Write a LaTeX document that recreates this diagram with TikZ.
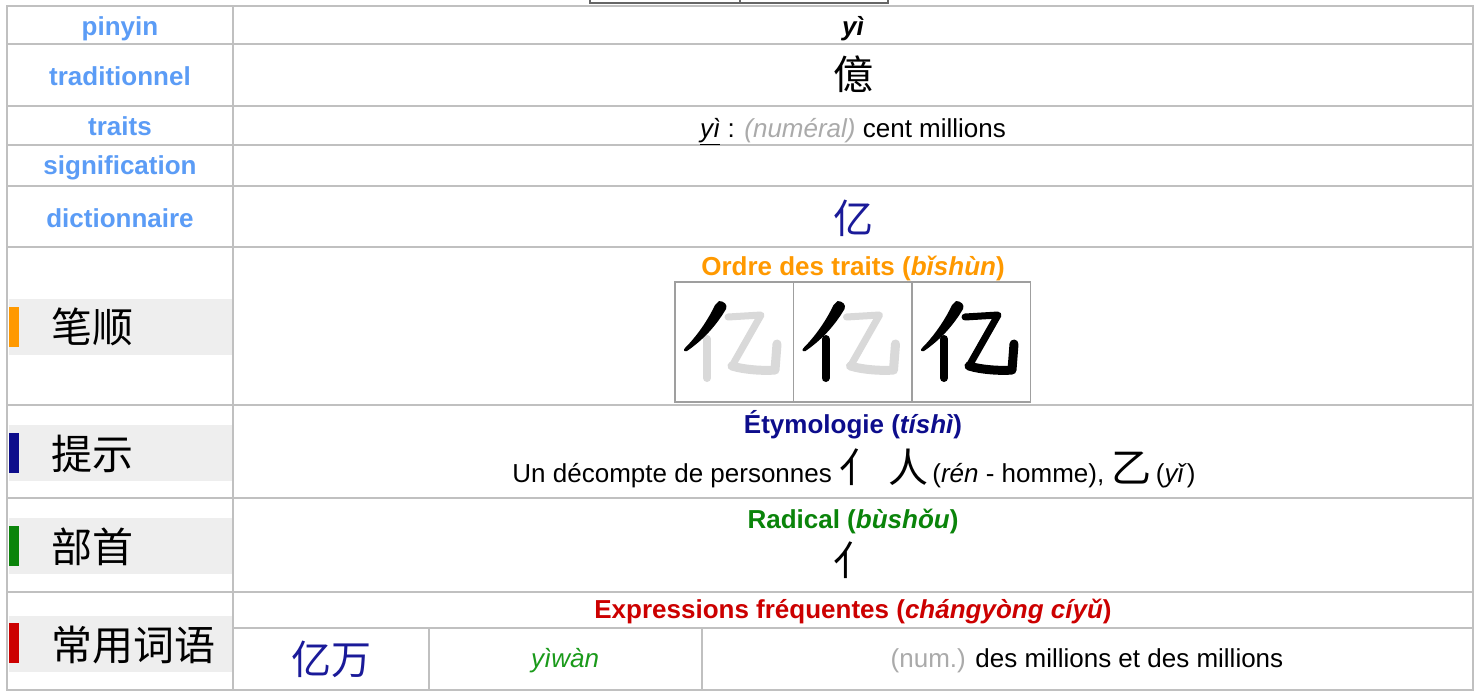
\documentclass[tikz,border=0pt]{standalone}
\usepackage{fontspec}
\setmainfont{Liberation Sans}
\newfontfamily\cjk{Noto Sans CJK SC}
\definecolor{gridc}{HTML}{C0C0C0}
\definecolor{lblue}{HTML}{5B9CF6}
\definecolor{orng}{HTML}{FF9900}
\definecolor{navyc}{HTML}{0D0D8C}
\definecolor{grn}{HTML}{0A840A}
\definecolor{rd}{HTML}{CC0000}
\definecolor{dblue}{HTML}{1A1A99}
\definecolor{ygreen}{HTML}{1A9A1A}
\definecolor{lgray}{HTML}{AAAAAA}
\definecolor{bandc}{HTML}{EEEEEE}
\definecolor{ghost}{HTML}{D9D9D9}
\newcommand\bighan{\fontsize{40}{44}\selectfont\cjk}
\newcommand\strokebox[4]{%
  \begin{scope}[shift={(#1,282)}]
    \draw[draw=gray!75, line width=1.5] (0,0) rectangle (118.5,120);
    \draw[brush,#4,line width=7] (53,35) -- (86,33) -- (57,84);
    \draw[brush,#4,line width=9] (57,84) .. controls (70,88) and (90,89) .. (100,88) -- (102,62);
    \draw[brush,#3] (32,57) -- (32,96);
    \fill[#2] (44,19) .. controls (49,19) and (53,23) .. (51,27)
      .. controls (41,44) and (28,58) .. (12,69)
      .. controls (9,70) and (8,68) .. (10,66)
      .. controls (22,54) and (33,38) .. (40,23) -- cycle;
  \end{scope}}
\begin{document}
\begin{tikzpicture}[x=1pt,y=-1pt,
  lab/.style={inner sep=0,anchor=base,text=lblue,font=\fontsize{26}{30}\selectfont\bfseries},
  txt/.style={inner sep=0,anchor=base,font=\fontsize{26}{30}\selectfont},
  han/.style={inner sep=0,anchor=base,font=\bighan},
  side/.style={inner sep=0,anchor=base west,font=\fontsize{41}{44}\selectfont\cjk},
  gridline/.style={draw=gridc,line width=2.5},
  brush/.style={line width=8,line cap=round,line join=round}]
\useasboundingbox (0,0) rectangle (1484,691);
\fill[white] (0,0) rectangle (1484,691);
% cut-off box at top
\draw[draw=gray!80!black,line width=1.5] (590,-3) rectangle (888,3);
\draw[draw=gray!80!black,line width=1.5] (740,-3) -- (740,3);
% side bands
\fill[bandc] (9,299) rectangle (232,355);
\fill[orng] (9,307) rectangle (19,347);
\fill[bandc] (9,425) rectangle (232,481);
\fill[navyc] (9,433) rectangle (19,473);
\fill[bandc] (9,518) rectangle (232,574);
\fill[grn] (9,526) rectangle (19,566);
\fill[bandc] (9,616) rectangle (232,672);
\fill[rd] (9,623) rectangle (19,663);
% grid
\draw[gridline] (7,6) rectangle (1473,690);
\draw[gridline] (233,6) -- (233,690);
\foreach \yy in {44,106,145,186,247,405,498,592}
  \draw[gridline] (7,\yy) -- (1473,\yy);
\draw[gridline] (233,628) -- (1473,628);
\draw[gridline] (429,628) -- (429,690);
\draw[gridline] (702,628) -- (702,690);
% left labels
\node[lab] (lpinyin) at (120,35) {pinyin};
\node[lab] (ltrad) at (120,85) {traditionnel};
\node[lab] (ltraits) at (120,135) {traits};
\node[lab] (lsig) at (120,174) {signification};
\node[lab] (ldict) at (120,227) {dictionnaire};
\node[side] (s1) at (51,342) {笔顺};
\node[side] (s2) at (51,469) {提示};
\node[side] (s3) at (51,562) {部首};
\node[side] (s4) at (51,660) {常用词语};
% right column
\node[txt] (py) at (853,35) {\bfseries\itshape yì};
\node[han] (trad) at (853,89) {億};
\node[txt] (meaning) at (853,137) {\underline{\itshape yì} : {\color{lgray}\itshape (numéral)} cent millions};
\node[han,text=dblue] (dict) at (853,233) {亿};
\node[txt,text=orng] (hordre) at (853,275) {\bfseries Ordre des traits (\textit{bǐshùn})};
\strokebox{675}{black}{ghost}{ghost}
\strokebox{793.5}{black}{black}{ghost}
\strokebox{912}{black}{black}{black}
\node[txt,text=navyc] (hety) at (853,433) {\bfseries Étymologie (\textit{tíshì})};
\node[txt] (ety) at (854,482) {Un décompte de personnes {\bighan 亻\ 人}\,(\textit{rén} - homme), {\bighan 乙}\,(\textit{yǐ})};
\node[txt,text=grn] (hrad) at (853,528) {\bfseries Radical (\textit{bùshǒu})};
\node[han] (rad) at (853,575) {亻};
\node[txt,text=rd] (hexp) at (853,618) {\bfseries Expressions fréquentes (\textit{chángyòng cíyǔ})};
\node[han,text=dblue] (w) at (331,674) {亿万};
\node[txt,text=ygreen] (wp) at (565,667) {\itshape yìwàn};
\node[txt] (wm) at (1087,667) {{\color{lgray}(num.)} des millions et des millions};
\end{tikzpicture}
\end{document}
